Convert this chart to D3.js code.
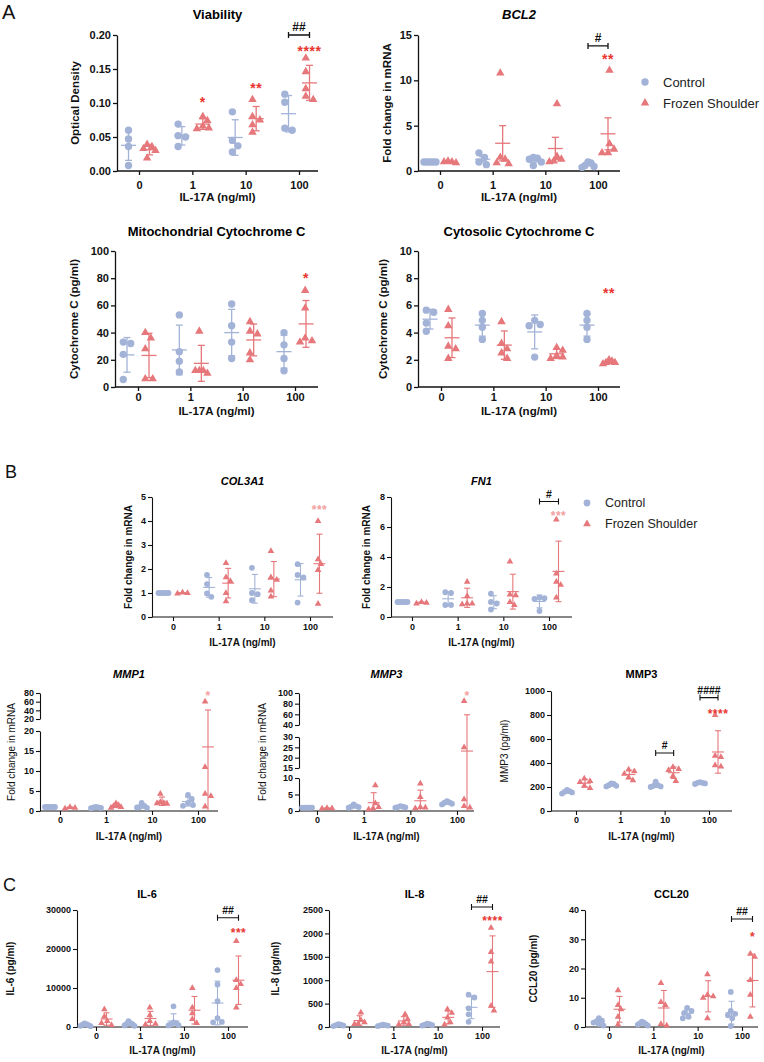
<!DOCTYPE html>
<html>
<head>
<meta charset="utf-8">
<script src="https://cdn.jsdelivr.net/npm/d3@7"></script>
<style>
  body { margin: 0; background: #fff; }
  svg { display: block; font-family: "Liberation Sans", Arial, sans-serif; }
</style>
</head>
<body>
<svg id="fig" width="764" height="1062"></svg>
<script>
// ---- data ----
const doses = ["0", "1", "10", "100"];
const groups = ["Control", "Frozen Shoulder"];

// A: viability (optical density)
const viabilityCtrl = [[0.060, 0.047, 0.036, 0.008], [0.069, 0.052, 0.050, 0.036], [0.087, 0.045, 0.037, 0.028], [0.113, 0.101, 0.063, 0.060]];
const viabilityFS = [[0.039, 0.036, 0.033, 0.030, 0.019], [0.080, 0.074, 0.066, 0.063, 0.062], [0.105, 0.080, 0.075, 0.068, 0.057], [0.166, 0.146, 0.121, 0.110, 0.105]];
const viabilityStars = [[1, 0.105, "*"], [2, 0.126, "**"], [3, 0.18, "****"]];
const viabilityHash = [[3, 0.2, "##"]];

// A: BCL2 fold change (mean ± SEM)
const bcl2Ctrl = [[1, 1, 1, 1, 1], [2.0, 1.5, 1.0, 0.7], [1.5, 1.4, 1.3, 1.0, 0.6], [1.0, 0.9, 0.6, 0.5, 0.4]];
const bcl2FS = [[1.1, 1.0, 1.0, 0.9], [10.8, 1.5, 1.3, 0.9, 0.8], [7.4, 1.6, 1.3, 1.1, 1.0], [11.1, 3.0, 2.4, 2.0, 2.0]];
const bcl2Stars = [[3, 12.6, "**"]];
const bcl2Hash = [[3, 13.8, "#"]];

// A: mitochondrial cytochrome C (pg/ml)
const mitoCtrl = [[33, 32, 24, 5.5], [53, 26, 19, 11], [61, 45, 33, 21], [40, 31, 21, 12]];
const mitoFS = [[40, 36, 28, 6, 6], [41, 12, 12, 10, 12], [48, 41, 39, 25, 20], [71, 58, 36, 34, 33]];
const mitoStars = [[3, 82, "*"]];

// A: cytosolic cytochrome C (pg/ml)
const cytoCtrl = [[5.65, 5.5, 4.7, 4.1], [5.4, 4.9, 4.4, 3.5], [4.9, 4.6, 4.5, 2.2], [5.4, 4.9, 4.4, 3.5]];
const cytoFS = [[5.7, 4.5, 3.0, 2.8, 2.1], [4.8, 3.2, 2.8, 2.5, 2.1], [2.9, 2.7, 2.3, 2.2, 2.1], [2.0, 1.9, 1.8, 1.8, 1.7]];
const cytoStars = [[3, 7.1, "**"]];

// B: COL3A1 / FN1 fold change
const col3a1Ctrl = [[1, 1, 1, 1, 1], [1.75, 1.37, 0.98, 0.84], [2.05, 1.0, 0.95, 0.7], [2.2, 1.75, 1.65, 0.6]];
const col3a1FS = [[1.02, 1.0, 0.98], [2.25, 1.65, 1.5, 1.0, 0.65], [2.75, 1.65, 1.55, 1.1, 0.85], [4.0, 2.4, 2.2, 1.95, 0.55]];
const col3a1Stars = [[3, 4.55, "***"]];

const fn1Ctrl = [[1, 1, 1, 1, 1], [1.65, 1.6, 0.8, 0.8], [1.55, 1.0, 0.9, 0.5], [1.3, 1.25, 1.2, 0.4]];
const fn1FS = [[1.0, 0.95, 0.9], [2.35, 1.4, 0.9, 0.85, 0.9], [3.7, 1.5, 1.45, 1.0, 0.8], [6.5, 2.9, 2.35, 2.15, 1.3]];
const fn1Stars = [[3, 6.9, "***"]];
const fn1Hash = [[3, 7.7, "#"]];

// B: MMP1 / MMP3 fold change (broken axes)
const mmp1Ctrl = [[1, 1, 1, 1, 1], [1.0, 0.9, 0.8, 0.7, 0.9], [2.0, 1.3, 1.0, 0.8, 0.9], [4.0, 3.0, 2.0, 1.5, 1.3]];
const mmp1FS = [[1.0, 0.8, 0.6], [1.9, 1.5, 1.2, 1.0, 0.8], [4.3, 2.2, 2.0, 1.8, 1.9], [60, 11, 4.3, 3.7, 1.1]];
const mmp1Stars = [[3, 80, "*"]];
const mmp1Segments = [[0, 20], [20, 80]];
const mmp1Ticks = [[0, 5, 10, 15, 20], [20, 40, 60, 80]];

const mmp3Ctrl = [[1, 1, 1, 1, 1], [2.0, 1.5, 1.3, 1.2, 1.0], [1.5, 1.3, 1.2, 1.1, 1.0], [3.0, 2.6, 2.5, 2.2, 2.0]];
const mmp3FS = [[0.9, 0.8, 0.7], [7.8, 2.3, 1.2, 0.8, 0.5], [8.3, 4.2, 1.2, 1.0, 0.8], [85, 25, 3.5, 1.5, 1.0]];
const mmp3Stars = [[3, 100, "*"]];
const mmp3Segments = [[0, 10], [15, 30], [40, 100]];
const mmp3Ticks = [[0, 5, 10], [15, 20, 25, 30], [40, 60, 80, 100]];

// B: MMP3 protein (pg/ml)
const mmp3pCtrl = [[175, 165, 160, 155, 145], [230, 225, 215, 210, 205], [245, 215, 210, 205, 200], [240, 235, 235, 230, 225]];
const mmp3pFS = [[270, 250, 240, 210, 190], [345, 330, 310, 280, 255], [365, 350, 340, 290, 250], [800, 460, 450, 380, 370]];
const mmp3pStars = [[3, 830, "****"]];
const mmp3pHash = [[2, 483, "#"], [3, 945, "####"]];

// C: cytokines (pg/ml)
const il6Ctrl = [[900, 700, 600, 500, 300, 200], [1500, 1000, 800, 700, 400, 300], [5300, 1200, 1000, 700, 500, 400], [14600, 10900, 6600, 2300, 1300, 1200]];
const il6FS = [[4500, 2700, 1500, 1000, 500], [5000, 3000, 1500, 800, 600], [10000, 5000, 3500, 2000, 1000], [22000, 12000, 11000, 10000, 5000]];
const il6Stars = [[3, 24800, "***"]];
const il6Hash = [[3, 28000, "##"]];

const il8Ctrl = [[60, 50, 40, 30, 20], [50, 40, 35, 30, 20], [70, 60, 50, 40, 30], [690, 630, 400, 270, 110]];
const il8FS = [[310, 150, 100, 70, 60], [270, 170, 100, 60, 50], [380, 300, 200, 100, 50], [2120, 1600, 1400, 450, 350]];
const il8Stars = [[3, 2320, "****"]];
const il8Hash = [[3, 2564, "##"]];

const ccl20Ctrl = [[3.0, 2.2, 2.0, 1.5, 1.0, 0.5], [1.8, 1.5, 1.2, 1.0, 0.8, 0.5], [6.5, 5.5, 4.8, 3.5, 3.0], [12, 5.5, 4.5, 4.0, 3.0, 0.3]];
const ccl20FS = [[12.5, 7.5, 6.0, 3.5, 0.8], [15, 8.5, 7.5, 1.0, 0.5], [18, 11, 10.5, 10, 3], [25, 24, 16, 11, 3.5]];
const ccl20Stars = [[3, 31.8, "*"]];
const ccl20Hash = [[3, 36.9, "##"]];

// ---- styles ----
const svg = d3.select("#fig");
const ctrlColor = "#a3b3d8";
const fsColor = "#e6777b";
const starRed = "#e8352f";
const starPink = "#f2a0a0";
const triScale = 0.72; // triangle area relative to the circle

const sizeA = { tick: 11, axis: 11.5, title: 13, r: 3.7, mean: 7.5, cap: 3.5, spread: 6, star: 14, hash: 12, lw: 1.3 };
const sizeB = { tick: 9, axis: 10, title: 11, r: 2.9, mean: 6, cap: 3, spread: 5, star: 12, hash: 10.5, lw: 1.1 };

function styleAxis(a, s) {
  a.attr("font-family", null).attr("font-size", null);
  a.selectAll(".domain, .tick line").attr("stroke", "#111").attr("stroke-width", s.lw);
  a.selectAll("text").attr("fill", "#111").attr("font-size", s.tick).attr("font-weight", "bold");
}

// spread points of one group sideways so they don't sit on top of each other
function swarm(ys, r, maxHalf) {
  const order = d3.range(ys.length).sort((a, b) => ys[a] - ys[b]);
  const placed = [];
  let dx = ys.map(() => 0);
  order.forEach(i => {
    for (let k = 0; k < 60; k++) {
      const off = (k % 2 ? 1 : -1) * Math.ceil(k / 2) * r * 0.5;
      if (placed.every(p => Math.hypot(p.x - off, p.y - ys[i]) >= r * 1.8)) { dx[i] = off; break; }
    }
    placed.push({ x: dx[i], y: ys[i] });
  });
  const mid = (d3.min(dx) + d3.max(dx)) / 2;
  dx = dx.map(d => d - mid);
  const mx = d3.max(dx, Math.abs);
  if (mx > maxHalf) dx = dx.map(d => d * maxHalf / mx);
  return dx;
}

function drawPanel(c) {
  const s = c.size;
  const g = svg.append("g");

  const segs = (c.segs || [{ d: c.yDomain, r: [c.bottom, c.top], t: c.yTicks }])
    .map(p => Object.assign({ sc: d3.scaleLinear().domain(p.d).range(p.r) }, p));
  const bottom = segs[0].r[0], top = segs[segs.length - 1].r[1];
  const x = d3.scalePoint().domain(doses).range(c.xr);

  const y = v => {
    for (let i = 0; i < segs.length; i++) {
      const p = segs[i];
      if (v <= p.d[1] || i === segs.length - 1) {
        if (v >= p.d[0] || i === 0) return p.sc(v);
        const q = segs[i - 1];
        const t = (v - q.d[1]) / (p.d[0] - q.d[1]);
        return q.r[1] + t * (p.r[0] - q.r[1]);
      }
    }
  };

  // y axis (one piece per segment)
  segs.forEach(p => {
    g.append("g").attr("transform", `translate(${c.left},0)`)
      .call(d3.axisLeft(p.sc).tickValues(p.t).tickFormat(c.yFormat || d3.format("d"))
        .tickSize(4).tickSizeOuter(0).tickPadding(2))
      .call(styleAxis, s);
  });

  // x axis
  g.append("g").attr("transform", `translate(0,${bottom})`)
    .call(d3.axisBottom(x).tickSize(4).tickPadding(c.xPad))
    .call(styleAxis, s)
    .call(a => a.select(".domain").attr("d", `M${c.left},0H${c.right}`));

  // points + mean/error bars
  [[c.ctrl, -1, ctrlColor, d3.symbolCircle], [c.fs, 1, fsColor, d3.symbolTriangle]].forEach(([sets, side, col, sym]) => {
    const area = Math.PI * s.r * s.r * (sym === d3.symbolTriangle ? triScale : 1);
    sets.forEach((vals, i) => {
      const cx = x(doses[i]) + side * c.sub;
      const ys = vals.map(y);
      const dx = swarm(ys, s.r, s.spread);
      g.selectAll(null).data(vals).join("path")
        .attr("transform", (d, j) => `translate(${cx + dx[j]},${ys[j]})`)
        .attr("d", d3.symbol(sym, area))
        .attr("fill", col);

      const m = d3.mean(vals);
      let e = d3.deviation(vals);
      if (c.sem) e /= Math.sqrt(vals.length);
      const lo = Math.max(0, m - e), hi = m + e;
      const bar = g.append("g").attr("stroke", col).attr("stroke-width", s.lw);
      bar.append("line").attr("x1", cx).attr("x2", cx).attr("y1", y(lo)).attr("y2", y(hi));
      bar.append("line").attr("x1", cx - s.mean).attr("x2", cx + s.mean).attr("y1", y(m)).attr("y2", y(m));
      [hi].concat(m - e > 0 ? [lo] : []).forEach(v => {
        bar.append("line").attr("x1", cx - s.cap).attr("x2", cx + s.cap).attr("y1", y(v)).attr("y2", y(v));
      });
    });
  });

  // significance marks
  (c.stars || []).forEach(([i, v, t]) => {
    g.append("text")
      .attr("x", x(doses[i]) + c.sub)
      .attr("y", y(v) + s.star * 0.55)
      .attr("text-anchor", "middle")
      .attr("font-size", s.star)
      .attr("font-weight", "bold")
      .attr("letter-spacing", 0.5)
      .attr("fill", c.starColor || starRed)
      .text(t);
  });
  (c.hashes || []).forEach(([i, v, t]) => {
    const cx = x(doses[i]), yy = y(v), a = cx - c.sub, b = cx + c.sub;
    g.append("path")
      .attr("d", `M${a},${yy - 3}V${yy + 3}M${a},${yy}H${b}M${b},${yy - 3}V${yy + 3}`)
      .attr("fill", "none").attr("stroke", "#111").attr("stroke-width", s.lw);
    g.append("text")
      .attr("x", cx).attr("y", yy - 4)
      .attr("text-anchor", "middle")
      .attr("font-size", s.hash).attr("font-weight", "bold").attr("fill", "#111")
      .text(t);
  });

  // titles
  g.append("text")
    .attr("x", c.titleX || (c.left + c.right) / 2).attr("y", c.titleY)
    .attr("text-anchor", "middle")
    .attr("font-size", s.title).attr("font-weight", "bold")
    .attr("font-style", c.italic ? "italic" : null)
    .text(c.title);
  g.append("text")
    .attr("transform", `translate(${c.ylabelX},${(top + bottom) / 2}) rotate(-90)`)
    .attr("text-anchor", "middle").attr("dominant-baseline", "central")
    .attr("font-size", s.axis).attr("font-weight", c.ylabelLight ? null : "bold")
    .attr("fill", "#111")
    .text(c.ylabel);
  g.append("text")
    .attr("x", (c.left + c.right) / 2).attr("y", bottom + c.xTitle)
    .attr("text-anchor", "middle")
    .attr("font-size", s.axis).attr("font-weight", "bold").attr("fill", "#111")
    .text("IL-17A (ng/ml)");
}

function legend(x0, y0, r, size) {
  [[ctrlColor, d3.symbolCircle, 1], [fsColor, d3.symbolTriangle, triScale]].forEach(([col, sym, k], i) => {
    const yy = y0 + i * 21;
    svg.append("path")
      .attr("transform", `translate(${x0},${yy})`)
      .attr("d", d3.symbol(sym, Math.PI * r * r * k))
      .attr("fill", col);
    svg.append("text")
      .attr("x", x0 + 18).attr("y", yy)
      .attr("dominant-baseline", "central")
      .attr("font-size", size).attr("fill", "#222")
      .text(groups[i]);
  });
}

function letter(t, x, y, size) {
  svg.append("text").attr("x", x).attr("y", y).attr("font-size", size).attr("fill", "#111").text(t);
}

// ---- panel A ----
letter("A", 2, 19, 20);
drawPanel({
  ctrl: viabilityCtrl, fs: viabilityFS, stars: viabilityStars, hashes: viabilityHash,
  left: 117, right: 318, top: 35, bottom: 171, xr: [139, 299], sub: 10.5,
  yDomain: [0, 0.2], yTicks: [0, 0.05, 0.1, 0.15, 0.2], yFormat: d3.format(".2f"),
  title: "Viability", titleY: 19, ylabel: "Optical Density", ylabelX: 75,
  xPad: 6, xTitle: 30, size: sizeA
});
drawPanel({
  ctrl: bcl2Ctrl, fs: bcl2FS, stars: bcl2Stars, hashes: bcl2Hash, sem: true,
  left: 418, right: 620, top: 35, bottom: 171, xr: [440, 598], sub: 10,
  yDomain: [0, 15], yTicks: [0, 5, 10, 15],
  title: "BCL2", italic: true, titleY: 19, ylabel: "Fold change in mRNA", ylabelX: 387,
  xPad: 6, xTitle: 30, size: sizeA
});
legend(645, 82, 3.7, 13);
drawPanel({
  ctrl: mitoCtrl, fs: mitoFS, stars: mitoStars,
  left: 115, right: 318, top: 251, bottom: 387, xr: [138, 295], sub: 11,
  yDomain: [0, 100], yTicks: [0, 20, 40, 60, 80, 100],
  title: "Mitochondrial Cytochrome C", titleY: 236, ylabel: "Cytochrome C (pg/ml)", ylabelX: 74,
  xPad: 2, xTitle: 28, size: sizeA
});
drawPanel({
  ctrl: cytoCtrl, fs: cytoFS, stars: cytoStars,
  left: 418, right: 620, top: 251, bottom: 387, xr: [441, 598], sub: 11,
  yDomain: [0, 10], yTicks: [0, 2, 4, 6, 8, 10],
  title: "Cytosolic Cytochrome C", titleY: 236, ylabel: "Cytochrome C (pg/ml)", ylabelX: 383,
  xPad: 2, xTitle: 28, size: sizeA
});

// ---- panel B ----
letter("B", 5, 478, 18);
drawPanel({
  ctrl: col3a1Ctrl, fs: col3a1FS, stars: col3a1Stars, starColor: starPink,
  left: 152, right: 333, top: 497, bottom: 617, xr: [173, 310], sub: 9.5,
  yDomain: [0, 5], yTicks: [0, 1, 2, 3, 4, 5],
  title: "COL3A1", italic: true, titleY: 485, ylabel: "Fold change in mRNA", ylabelX: 128,
  xPad: 3, xTitle: 29, size: sizeB
});
drawPanel({
  ctrl: fn1Ctrl, fs: fn1FS, stars: fn1Stars, hashes: fn1Hash, starColor: starPink,
  left: 391, right: 572, top: 497, bottom: 617, xr: [412, 549], sub: 9.5,
  yDomain: [0, 8], yTicks: [0, 2, 4, 6, 8],
  title: "FN1", italic: true, titleY: 485, ylabel: "Fold change in mRNA", ylabelX: 366,
  xPad: 3, xTitle: 29, size: sizeB
});
legend(587, 503, 3.4, 12.5);
drawPanel({
  ctrl: mmp1Ctrl, fs: mmp1FS, stars: mmp1Stars, starColor: starPink,
  left: 40, right: 218, xr: [60, 198], sub: 10,
  segs: [
    { d: mmp1Segments[0], r: [811, 731], t: mmp1Ticks[0] },
    { d: mmp1Segments[1], r: [719, 693], t: mmp1Ticks[1] }
  ],
  title: "MMP1", italic: true, titleY: 678, ylabel: "Fold change in mRNA", ylabelX: 11, ylabelLight: true,
  xPad: 2, xTitle: 29, size: sizeB
});
drawPanel({
  ctrl: mmp3Ctrl, fs: mmp3FS, stars: mmp3Stars, starColor: starPink,
  left: 299, right: 474, xr: [317, 457], sub: 10,
  segs: [
    { d: mmp3Segments[0], r: [811, 778], t: mmp3Ticks[0] },
    { d: mmp3Segments[1], r: [768, 737], t: mmp3Ticks[1] },
    { d: mmp3Segments[2], r: [725, 693], t: mmp3Ticks[2] }
  ],
  title: "MMP3", italic: true, titleY: 678, ylabel: "Fold change in mRNA", ylabelX: 262, ylabelLight: true,
  xPad: 2, xTitle: 29, size: sizeB
});
drawPanel({
  ctrl: mmp3pCtrl, fs: mmp3pFS, stars: mmp3pStars, hashes: mmp3pHash,
  left: 551, right: 732, top: 691, bottom: 811, xr: [576, 709], sub: 9,
  yDomain: [0, 1000], yTicks: [0, 200, 400, 600, 800, 1000],
  title: "MMP3", titleY: 678, ylabel: "MMP3 (pg/ml)", ylabelX: 504, ylabelLight: true,
  xPad: 2, xTitle: 29, size: sizeB
});

// ---- panel C ----
letter("C", 3, 891, 18);
drawPanel({
  ctrl: il6Ctrl, fs: il6FS, stars: il6Stars, hashes: il6Hash,
  left: 77, right: 248, top: 910, bottom: 1027, xr: [96, 228], sub: 10.5,
  yDomain: [0, 30000], yTicks: [0, 10000, 20000, 30000],
  title: "IL-6", titleX: 147, titleY: 898, ylabel: "IL-6 (pg/ml)", ylabelX: 10,
  xPad: 2, xTitle: 27, size: sizeB
});
drawPanel({
  ctrl: il8Ctrl, fs: il8FS, stars: il8Stars, hashes: il8Hash,
  left: 329, right: 500, top: 910, bottom: 1027, xr: [349, 482], sub: 10.5,
  yDomain: [0, 2500], yTicks: [0, 500, 1000, 1500, 2000, 2500],
  title: "IL-8", titleY: 898, ylabel: "IL-8 (pg/ml)", ylabelX: 275,
  xPad: 2, xTitle: 27, size: sizeB
});
drawPanel({
  ctrl: ccl20Ctrl, fs: ccl20FS, stars: ccl20Stars, hashes: ccl20Hash,
  left: 585, right: 758, top: 910, bottom: 1027, xr: [609, 742], sub: 10.5,
  yDomain: [0, 40], yTicks: [0, 10, 20, 30, 40],
  title: "CCL20", titleY: 898, ylabel: "CCL20 (pg/ml)", ylabelX: 533,
  xPad: 2, xTitle: 27, size: sizeB
});
</script>
</body>
</html>
